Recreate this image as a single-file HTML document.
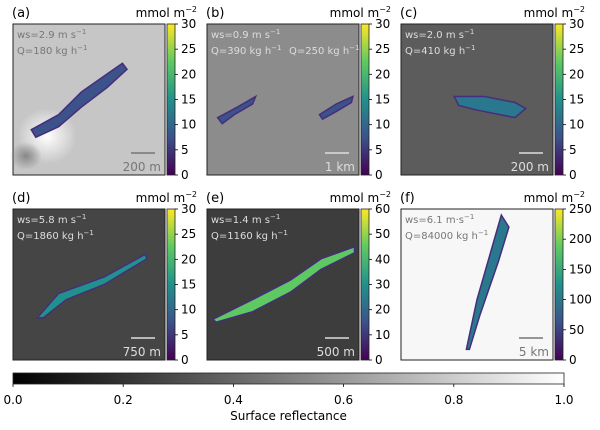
<!DOCTYPE html>
<html><head><meta charset="utf-8"><style>
body{margin:0;background:#fff;width:600px;height:425px;overflow:hidden;font-family:"Liberation Sans","DejaVu Sans",sans-serif}
svg text{font-family:"DejaVu Sans","Liberation Sans",sans-serif}
</style></head><body>
<svg id="fig" width="600" height="425" viewBox="0 0 600 425">
<defs>
<linearGradient id="vir" x1="0" y1="1" x2="0" y2="0">
<stop offset="0" stop-color="#440154"/><stop offset="0.25" stop-color="#3b528b"/><stop offset="0.5" stop-color="#21918c"/><stop offset="0.75" stop-color="#5ec962"/><stop offset="1" stop-color="#fde725"/>
</linearGradient>
<linearGradient id="gray" x1="0" y1="0" x2="1" y2="0"><stop offset="0" stop-color="#000"/><stop offset="1" stop-color="#fff"/></linearGradient>
<radialGradient id="blob" cx="0.5" cy="0.5" r="0.5"><stop offset="0" stop-color="#fff"/><stop offset="1" stop-color="#fff" stop-opacity="0"/></radialGradient>
<radialGradient id="dark" cx="0.5" cy="0.5" r="0.5"><stop offset="0" stop-color="#888"/><stop offset="1" stop-color="#888" stop-opacity="0"/></radialGradient>
</defs>
<g id="panels"></g>
<g id="bottom"></g>
</svg>
<script>
const panelNames=["(a)","(b)","(c)","(d)","(e)","(f)"];
const wsText=["ws=2.9 m s","ws=0.9 m s","ws=2.0 m s","ws=5.8 m s","ws=1.4 m s","ws=6.1 m·s"];
const qText=["Q=180 kg h","Q=390 kg h","Q=410 kg h","Q=1860 kg h","Q=1160 kg h","Q=84000 kg h"];
const scaleText=["200 m","1 km","200 m","750 m","500 m","5 km"];
const cbarMax=[30,30,30,30,60,250];
const cbarStep=[5,5,5,5,10,50];
const bgColors=["#c6c6c6","#8c8c8c","#5c5c5c","#454545","#3d3d3d","#f7f7f7"];
const reflTicks=[0.0,0.2,0.4,0.6,0.8,1.0];
const NS="http://www.w3.org/2000/svg";
function el(t,a,p){const e=document.createElementNS(NS,t);for(const k in a)e.setAttribute(k,a[k]);p.appendChild(e);return e;}
const colX=[13,207,401], rowY=[24,209], W=152, H=151;
const root=document.getElementById('panels');
const plumes=[
 [[0.12,0.7,0.3,0.6,0.45,0.45,0.62,0.33,0.72,0.26,0.75,0.3,0.62,0.42,0.45,0.55,0.3,0.68,0.15,0.75]],
 [[0.07,0.62,0.2,0.55,0.32,0.48,0.3,0.53,0.18,0.6,0.1,0.66]],
 [[0.35,0.48,0.55,0.48,0.75,0.52,0.82,0.56,0.75,0.62,0.5,0.57,0.38,0.54]],
 [[0.16,0.72,0.3,0.56,0.6,0.45,0.87,0.3,0.88,0.33,0.6,0.5,0.35,0.6,0.2,0.72]],
 [[0.04,0.73,0.3,0.6,0.55,0.47,0.75,0.33,0.97,0.25,0.97,0.29,0.75,0.4,0.55,0.55,0.3,0.68,0.06,0.75]],
 [[0.43,0.93,0.5,0.6,0.6,0.25,0.66,0.04,0.71,0.12,0.64,0.35,0.52,0.7,0.45,0.93]]
];
const extraPlume=[null,[0.74,0.6,0.85,0.53,0.96,0.48,0.95,0.52,0.85,0.58,0.76,0.63],null,null,null,null];
const plumeFill=["#3b528b","#3b528b","#2a788e","#21918c","#5ec962","#2a788e"];
function drawPoly(p,x,y,fill,g){const pts=[];for(let k=0;k<p.length;k+=2)pts.push((x+p[k]*W)+','+(y+p[k+1]*H));
  const pl=el('polygon',{points:pts.join(' '),fill:fill,stroke:'#472d7b','stroke-width':1.5},g);
  }
for(let i=0;i<6;i++){
 const x=colX[i%3], y=rowY[Math.floor(i/3)];
 const g=el('g',{},root);
 
 
 const bg=el('rect',{x:x,y:y,width:W,height:H,fill:bgColors[i],stroke:'#222','stroke-width':1},g);
 
 if(i===0){el('ellipse',{cx:x+34,cy:y+112,rx:30,ry:28,fill:'url(#blob)'},g);el('ellipse',{cx:x+13,cy:y+132,rx:16,ry:14,fill:'url(#dark)'},g);}
 plumes[i].forEach(p=>drawPoly(p,x,y,plumeFill[i],g));
 if(extraPlume[i])drawPoly(extraPlume[i],x,y,plumeFill[i],g);
 const tc=i===5||i===0?'#777':'#ddd';
 const t1=el('text',{x:x+4,y:y+14,'font-size':10,fill:tc},g);t1.textContent=wsText[i];
 const s1=el('tspan',{dy:-4,'font-size':7},t1);s1.textContent='−1';
 
 const t2=el('text',{x:x+4,y:y+30,'font-size':10,fill:tc},g);t2.textContent=qText[i];
 const s2=el('tspan',{dy:-4,'font-size':7},t2);s2.textContent='−1';
 
 if(i===1){const t3=el('text',{x:x+82,y:y+30,'font-size':10,fill:tc},g);t3.textContent='Q=250 kg h';const s3=el('tspan',{dy:-4,'font-size':7},t3);s3.textContent='−1';
  }
 const sc=el('line',{x1:x+W-34,x2:x+W-10,y1:y+129,y2:y+129,stroke:tc,'stroke-width':1.5},g);
 
 const st=el('text',{x:x+W-4,y:y+147,'font-size':12,fill:tc,'text-anchor':'end'},g);st.textContent=scaleText[i];
 
 const lab=el('text',{x:x-1,y:y-7,'font-size':13,fill:'#000'},g);lab.textContent=panelNames[i];
 
 const cx=x+W+2;
 const cb=el('rect',{x:cx,y:y,width:8,height:H,fill:'url(#vir)',stroke:'#222','stroke-width':0.8},g);
 
 const un=el('text',{x:cx+30,y:y-7,'font-size':12,fill:'#000','text-anchor':'end'},g);un.textContent='mmol m';
 const us=el('tspan',{dy:-5,'font-size':8},un);us.textContent='−2';
 
 const yS=v=>y+H-v/cbarMax[i]*H;
 for(let v=0;v<=cbarMax[i];v+=cbarStep[i]){
  el('line',{x1:cx+8,x2:cx+11,y1:yS(v),y2:yS(v),stroke:'#000','stroke-width':0.8},g);
  const tt=el('text',{x:cx+14,y:yS(v)+4,'font-size':12,fill:'#000'},g);tt.textContent=v;
  
 }
}
const b=document.getElementById('bottom');
const bx0=13,bx1=564;
const bS=v=>bx0+v*(bx1-bx0);
el('rect',{x:bx0,y:373,width:bx1-bx0,height:11,fill:'url(#gray)',stroke:'#222','stroke-width':0.8},b);
reflTicks.forEach(v=>{el('line',{x1:bS(v),x2:bS(v),y1:384,y2:387,stroke:'#000','stroke-width':0.8},b);
 const t=el('text',{x:bS(v),y:404,'font-size':12,'text-anchor':'middle',fill:'#000'},b);t.textContent=v.toFixed(1);
 });
const xl=el('text',{x:(bx0+bx1)/2,y:420,'font-size':12,'text-anchor':'middle',fill:'#000'},b);xl.textContent='Surface reflectance';

</script>
</body></html>
